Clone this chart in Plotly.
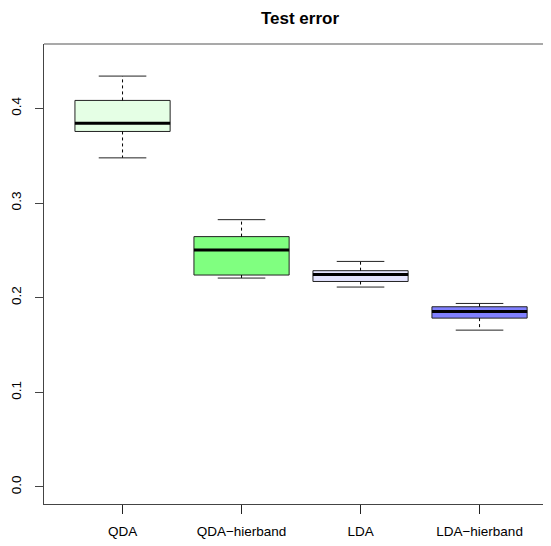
import plotly.graph_objects as go

categories = ["QDA", "QDA−hierband", "LDA", "LDA−hierband"]
lower_whisker = [0.3477, 0.2207, 0.2112, 0.1657]
q1 = [0.3756, 0.2239, 0.2171, 0.1784]
median = [0.3843, 0.2504, 0.2246, 0.1854]
q3 = [0.4084, 0.2645, 0.2285, 0.1904]
upper_whisker = [0.4341, 0.2824, 0.2383, 0.1939]
fill_colors = ["#E5FFE5", "#80FF80", "#E5E5FF", "#8080FF"]
y_ticks = [0.0, 0.1, 0.2, 0.3, 0.4]

positions = list(range(1, len(categories) + 1))
boxwex = 0.8
staple = boxwex * 0.25

# the page body adds an 8px offset; the figure is sized to the visible area
OFF = 8
W, H = 551 - OFF, 546 - OFF

fig = go.Figure()

# boxes
fig.add_trace(go.Bar(
    x=positions,
    y=[b - a for a, b in zip(q1, q3)],
    base=q1,
    width=boxwex,
    marker=dict(color=fill_colors, line=dict(color="#222222", width=1)),
    hoverinfo="skip",
    showlegend=False,
))

# whiskers (dashed)
wx, wy = [], []
for p, lo, a, b, hi in zip(positions, lower_whisker, q1, q3, upper_whisker):
    wx += [p, p, None, p, p, None]
    wy += [b, hi, None, a, lo, None]
fig.add_trace(go.Scatter(x=wx, y=wy, mode="lines",
                         line=dict(color="black", width=1, dash="3px,3px"),
                         hoverinfo="skip", showlegend=False))

# staples
sx, sy = [], []
for p, lo, hi in zip(positions, lower_whisker, upper_whisker):
    sx += [p - staple, p + staple, None, p - staple, p + staple, None]
    sy += [hi, hi, None, lo, lo, None]
fig.add_trace(go.Scatter(x=sx, y=sy, mode="lines",
                         line=dict(color="#222222", width=1),
                         hoverinfo="skip", showlegend=False))

# medians
mx, my = [], []
for p, m in zip(positions, median):
    mx += [p - boxwex / 2, p + boxwex / 2, None]
    my += [m, m, None]
fig.add_trace(go.Scatter(x=mx, y=my, mode="lines",
                         line=dict(color="black", width=3),
                         hoverinfo="skip", showlegend=False))

font_family = "Liberation Sans, Arial, Helvetica, sans-serif"
plot_w = W - (44 - OFF)

fig.update_layout(
    width=W, height=H,
    margin=dict(l=44 - OFF, r=0, t=44 - OFF, b=42, pad=0),
    paper_bgcolor="white", plot_bgcolor="white",
    barmode="overlay",
    font=dict(family=font_family, size=13, color="black"),
    title=dict(text="<b>Test error</b>", x=(300 - OFF) / W, xanchor="center",
               xref="container", y=1 - (18 - OFF) / H, yanchor="middle",
               yref="container", font=dict(size=17, family=font_family, color="black")),
    xaxis=dict(
        range=[0.34, 0.34 + plot_w / 119],
        tickmode="array", tickvals=positions, ticktext=categories,
        showgrid=False, zeroline=False,
        showline=True, linecolor="#444444", linewidth=1,
        ticks="outside", ticklen=9, tickcolor="#222222", tickwidth=1,
        tickfont=dict(size=13.5), ticklabelstandoff=6,
    ),
    yaxis=dict(
        range=[-0.018, 0.468],
        tickmode="array", tickvals=y_ticks, ticktext=[f"{v:.1f}" for v in y_ticks],
        showgrid=False, zeroline=False,
        showline=True, linecolor="#444444", linewidth=1,
        ticks="outside", ticklen=8, tickcolor="#444444", tickwidth=1,
        tickangle=-90, tickfont=dict(size=13.5), ticklabelstandoff=9,
    ),
    shapes=[dict(type="line", xref="paper", yref="paper", x0=0, x1=1, y0=1, y1=1,
                 line=dict(color="#555555", width=1.2))],
)

fig.write_html("out.html")
